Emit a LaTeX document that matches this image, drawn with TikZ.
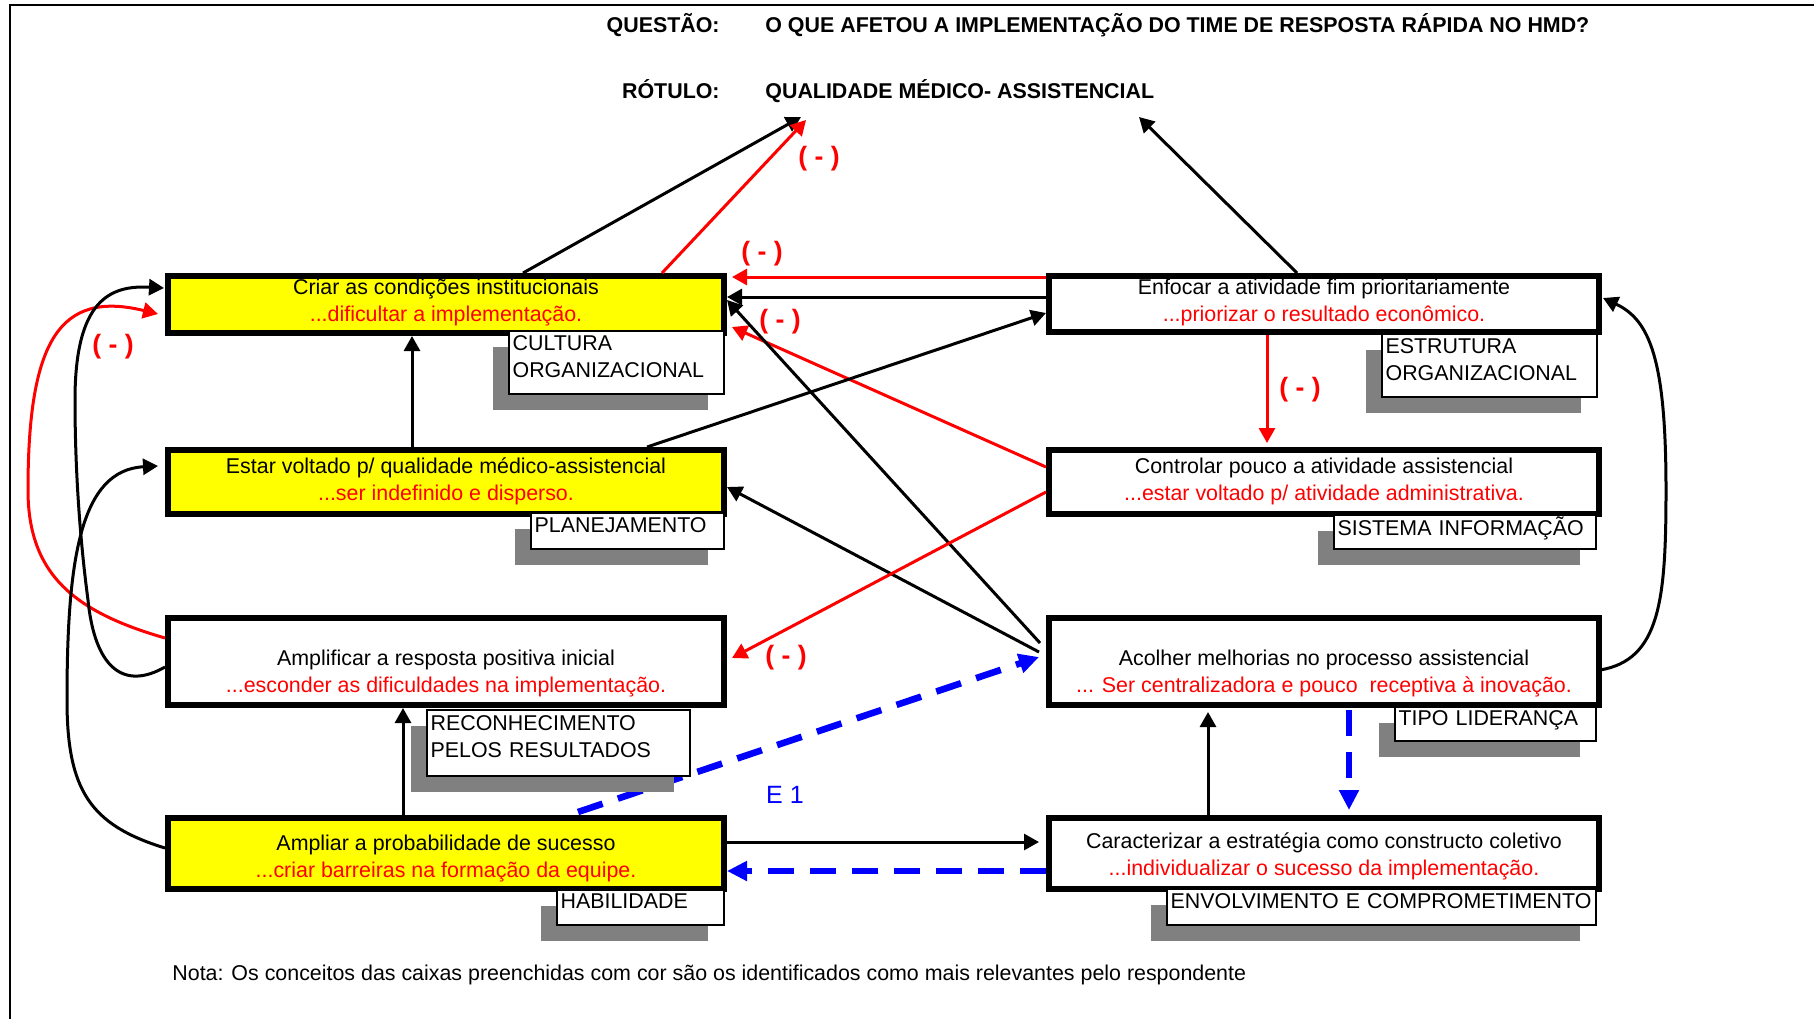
\documentclass[tikz,border=0pt]{standalone}
\usepackage{fontspec}
\setmainfont{Liberation Sans}
\usetikzlibrary{arrows.meta,calc,shadows}
\definecolor{myred}{HTML}{FF0000}
\definecolor{myblue}{HTML}{0000FF}
\definecolor{myyellow}{HTML}{FFFF00}
\definecolor{shgray}{HTML}{808080}
\begin{document}
\begin{tikzpicture}[x=0.5pt,y=-0.5pt,
  mainbox/.style={draw, line width=2.8pt, anchor=north west, inner sep=0pt},
  lbox/.style={mainbox, minimum width=278.2pt},
  rbox/.style={mainbox, minimum width=275.2pt, fill=white},
  btext/.style={align=center, font=\fontsize{10.7pt}{13.5pt}\selectfont, inner sep=0pt},
  lbl/.style={draw, line width=1.2pt, fill=white, anchor=north west, inner xsep=1.7pt, inner ysep=0pt, align=left, font=\fontsize{10.7pt}{13.5pt}\selectfont, drop shadow={shadow xshift=-8pt, shadow yshift=-8pt, opacity=1, fill=shgray}},
  conn/.style={line width=1.5pt, -{Triangle[length=7.5pt,width=8pt]}},
  bconn/.style={conn, draw=black},
  rconn/.style={conn, draw=myred},
  dconn/.style={line width=3.3pt, draw=myblue, dash pattern=on 13pt off 8pt, -{Triangle[length=10pt,width=9.5pt]}},
  neg/.style={text=myred, font=\fontsize{13.3pt}{15pt}\selectfont\bfseries, inner sep=0pt},
  hdr/.style={font=\fontsize{10.7pt}{13pt}\selectfont\bfseries, inner sep=0pt}
]
\useasboundingbox (0,0) rectangle (1814,1019);
\fill[white] (0,0) rectangle (1814,1019);
% frame
\draw[line width=1pt] (10,1019) -- (10,5) -- (1814,5);

% header
\node[hdr, anchor=base east] (qlab) at (720,32.7) {QUESTÃO:};
\node[hdr, anchor=base west] (qtxt) at (765,32.7) {O QUE AFETOU A IMPLEMENTAÇÃO DO TIME DE RESPOSTA RÁPIDA NO HMD?};
\node[hdr, anchor=base east] (rlab) at (720,98.7) {RÓTULO:};
\node[hdr, anchor=base west] (rtxt) at (765,98.7) {QUALIDADE MÉDICO- ASSISTENCIAL};
\coordinate (ta) at (801,117);
\coordinate (tb) at (806,120);
\coordinate (tc) at (1139,117);

% main boxes
\node[lbox, fill=myyellow, minimum height=28.7pt] (b1) at (165,273) {};
\node[lbox, fill=myyellow, minimum height=32.2pt] (b2) at (165,447) {};
\node[lbox, fill=white, minimum height=43.7pt] (b3) at (165,615) {};
\node[lbox, fill=myyellow, minimum height=35.7pt] (b4) at (165,815) {};
\node[rbox, minimum height=28.2pt] (e1) at (1046,273) {};
\node[rbox, minimum height=32.2pt] (e2) at (1046,447) {};
\node[rbox, minimum height=43.7pt] (e3) at (1046,615) {};
\node[rbox, minimum height=35.7pt] (e4) at (1046,815) {};

\node[btext] (b1t) at (446,302.5) {Criar as condições institucionais\\\textcolor{myred}{...dificultar a implementação.}};
\node[btext] (b2t) at (446,481.5) {Estar voltado p/ qualidade médico-assistencial\\\textcolor{myred}{...ser indefinido e disperso.}};
\node[btext] (b3t) at (446,673.5) {Amplificar a resposta positiva inicial\\\textcolor{myred}{...esconder as dificuldades na implementação.}};
\node[btext] (b4t) at (446,858) {Ampliar a probabilidade de sucesso\\\textcolor{myred}{...criar barreiras na formação da equipe.}};
\node[btext] (e1t) at (1324,302.5) {Enfocar a atividade fim prioritariamente\\\textcolor{myred}{...priorizar o resultado econômico.}};
\node[btext] (e2t) at (1324,481.5) {Controlar pouco a atividade assistencial\\\textcolor{myred}{...estar voltado p/ atividade administrativa.}};
\node[btext] (e3t) at (1324,673.5) {Acolher melhorias no processo assistencial\\\textcolor{myred}{... Ser centralizadora e pouco~ receptiva à inovação.}};
\node[btext] (e4t) at (1324,856.5) {Caracterizar a estratégia como constructo coletivo\\\textcolor{myred}{...individualizar o sucesso da implementação.}};

% connectors to the title
\draw[bconn] ($(b1.north west)+(358,0)$) -- (ta);
\draw[rconn] ($(b1.north west)+(497,0)$) -- (tb);
\draw[bconn] ($(e1.north west)+(251,0)$) -- (tc);

% right column to left column
\draw[rconn] ($(e1.north west)+(0,4)$) -- ($(b1.north east)+(5,4)$);
\draw[bconn] ($(e1.north west)+(0,24)$) -- ($(b1.north east)+(0,24)$);
\draw[rconn] ($(e2.north west)+(0,20)$) -- ($(b1.north east)+(5,54)$);
\draw[bconn] ($(e3.north west)+(-6,28)$) -- ($(b1.north east)+(0,27)$);
\draw[bconn] ($(e3.north west)+(-7,37)$) -- ($(b2.north east)+(0,40)$);
\draw[bconn] ($(b2.north west)+(482,0)$) -- ($(e1.north west)+(0,40)$);
\draw[rconn] ($(e2.north west)+(0,45)$) -- ($(b3.north east)+(5,43)$);

% verticals
\draw[bconn] ($(b2.north west)+(247,0)$) -- ($(b1.south west)+(247,0)$);
\draw[rconn] ($(e1.south west)+(221,0)$) -- ($(e2.north west)+(221,-4)$);
\draw[bconn] ($(b4.north west)+(238,0)$) -- ($(b3.south west)+(238,0)$);
\draw[bconn] ($(e4.north west)+(162,0)$) -- ($(e3.south west)+(162,4)$);
\draw[dconn] ($(e3.south west)+(303,2)$) -- ($(e4.north west)+(303,-5)$);

% bottom row
\draw[bconn] ($(b4.north east)+(0,27)$) -- ($(e4.north west)+(-7,27)$);
\draw[dconn] ($(e4.north west)+(0,56)$) -- ($(b4.north east)+(0,56)$);
\draw[dconn] ($(b4.north west)+(413,-3)$) -- ($(e3.north west)+(-7,42)$);

% left curves
\draw[rconn] ($(b3.north west)+(0,23)$) .. controls (75,612) and (28,575) .. (28,490) .. controls (28,340) and (60,290) .. ($(b1.north west)+(-7,41)$);
\draw[bconn] ($(b3.north west)+(0,52)$) .. controls (125,690) and (95,670) .. (88,600) .. controls (80,540) and (75,470) .. (75,400) .. controls (75,300) and (110,285) .. ($(b1.north west)+(-1,15)$);
\draw[bconn] ($(b4.north west)+(0,33)$) .. controls (90,825) and (67,790) .. (67,700) .. controls (67,560) and (80,470) .. ($(b2.north west)+(-7,19)$);
% right curve
\draw[bconn] ($(e3.north east)+(-2,55)$) .. controls (1660,660) and (1666,600) .. (1666,490) .. controls (1666,360) and (1650,320) .. ($(e1.north east)+(1,25)$);

% negative signs
\node[neg] (n1) at (819,159) {( - )};
\node[neg] (n2) at (762,254) {( - )};
\node[neg] (n3) at (780,322) {( - )};
\node[neg] (n4) at (113,347) {( - )};
\node[neg] (n5) at (1300,390) {( - )};
\node[neg] (n6) at (786,658) {( - )};
\node[text=myblue, font=\fontsize{12.5pt}{14pt}\selectfont, inner sep=0pt] (elab) at (785,795) {E 1};

% label boxes
\node[lbl, text width=103.9pt, minimum height=31.3pt] (lcult) at (508,330) {\mbox{CULTURA}\\\mbox{ORGANIZACIONAL}\rule[-6pt]{0pt}{0pt}};
\node[lbl, text width=103.9pt, minimum height=31.3pt] (lestr) at (1381,333) {\mbox{ESTRUTURA}\\\mbox{ORGANIZACIONAL}\rule[-6pt]{0pt}{0pt}};
\node[lbl, text width=92.9pt, minimum height=17.8pt] (lplan) at (530,512) {\mbox{PLANEJAMENTO}\rule[-6pt]{0pt}{0pt}};
\node[lbl, text width=127.4pt, minimum height=16.8pt] (lsist) at (1333,514) {\mbox{SISTEMA INFORMAÇÃO}\rule[-6pt]{0pt}{0pt}};
\node[lbl, text width=127.9pt, minimum height=32.8pt] (lreco) at (426,709) {\mbox{RECONHECIMENTO}\\\mbox{PELOS RESULTADOS}\rule[-6pt]{0pt}{0pt}};
\node[lbl, text width=96.9pt, minimum height=16.8pt] (ltipo) at (1394,706) {\mbox{TIPO LIDERANÇA}\rule[-6pt]{0pt}{0pt}};
\node[lbl, text width=79.9pt, minimum height=17.3pt] (lhab) at (556,889) {\mbox{HABILIDADE}\rule[-6pt]{0pt}{0pt}};
\node[lbl, text width=210.9pt, minimum height=17.8pt] (lenv) at (1166,888) {\mbox{ENVOLVIMENTO E COMPROMETIMENTO}\rule[-6pt]{0pt}{0pt}};

% note
\node[anchor=west, font=\fontsize{10.7pt}{13pt}\selectfont, inner sep=0pt] (nota) at (172,975) {Nota: Os conceitos das caixas preenchidas com cor são os identificados como mais relevantes pelo respondente};
\end{tikzpicture}
\end{document}
